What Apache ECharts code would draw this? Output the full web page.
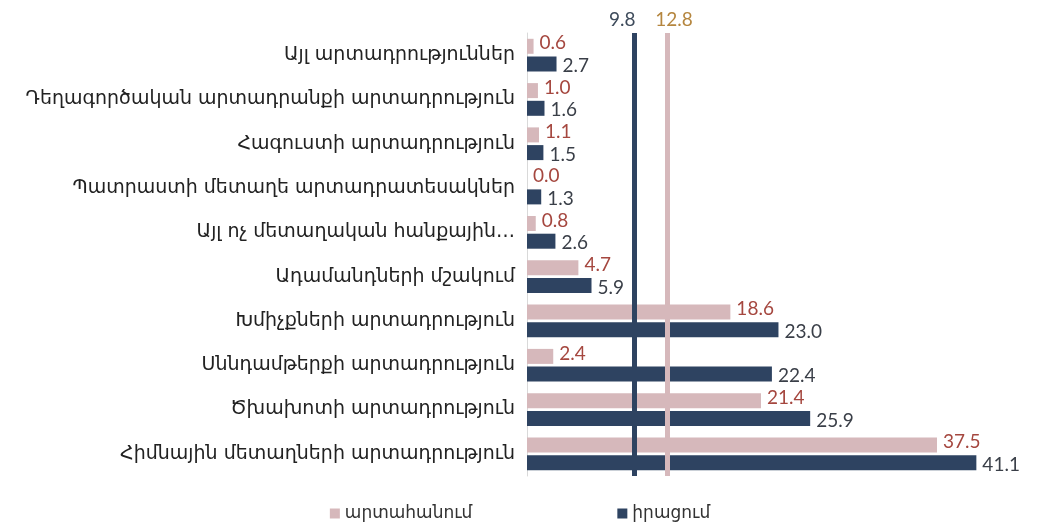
<!DOCTYPE html>
<html>
<head>
<meta charset="utf-8">
<script src="https://cdn.jsdelivr.net/npm/echarts@6/dist/echarts.min.js"></script>
<style>
html,body{margin:0;padding:0;background:#fff;}
#chart{width:1040px;height:529px;}
</style>
</head>
<body>
<div id="chart"></div>
<script>
const categories = [
  'Այլ արտադրություններ',
  'Դեղագործական արտադրանքի արտադրություն',
  'Հագուստի արտադրություն',
  'Պատրաստի մետաղե արտադրատեսակներ',
  'Այլ ոչ մետաղական հանքային…',
  'Ադամանդների մշակում',
  'Խմիչքների արտադրություն',
  'Սննդամթերքի արտադրություն',
  'Ծխախոտի արտադրություն',
  'Հիմնային մետաղների արտադրություն'
];
const exportValues = [0.6, 1.0, 1.1, 0.0, 0.8, 4.7, 18.6, 2.4, 21.4, 37.5];
const salesValues  = [2.7, 1.6, 1.5, 1.3, 2.6, 5.9, 23.0, 22.4, 25.9, 41.1];
const seriesNames = ['արտահանում', 'իրացում'];
const salesAverage = 9.8;
const exportAverage = 12.8;

const pink = '#d6b8bb';
const navy = '#2e4361';

const chart = echarts.init(document.getElementById('chart'));
chart.setOption({
  backgroundColor: '#fff',
  animation: false,
  legend: {
    bottom: 2,
    left: 'center',
    itemWidth: 10,
    itemHeight: 10,
    itemGap: 145,
    icon: 'rect',
    textStyle: {fontFamily: 'DejaVu Sans', fontSize: 17, color: '#333'},
    data: seriesNames
  },
  grid: {left: 527, right: 21, top: 33, bottom: 53},
  xAxis: {
    type: 'value', min: 0, max: 45,
    axisLabel: {show: false}, axisLine: {show: false},
    axisTick: {show: false}, splitLine: {show: false}
  },
  yAxis: {
    type: 'category', inverse: true, data: categories,
    axisLine: {show: true, lineStyle: {color: '#d9d9d9', width: 1}},
    axisTick: {show: false},
    axisLabel: {fontFamily: 'DejaVu Sans', fontSize: 19, color: '#222', margin: 12}
  },
  series: [
    {
      name: seriesNames[0], type: 'bar', data: exportValues,
      barWidth: 15, barGap: '18%',
      itemStyle: {color: pink},
      label: {
        show: true, position: 'right', distance: 6, offset: [0, -3],
        fontFamily: 'Lato', fontSize: 19, color: '#a5473f',
        formatter: p => p.value.toFixed(1)
      },
      markLine: {
        silent: true, symbol: 'none',
        lineStyle: {color: pink, width: 5, type: 'solid'},
        label: {show: true, position: 'start', fontFamily: 'Lato', fontSize: 19, color: '#b5863f', distance: 4,
          padding: [0, 0, 0, 14],
          formatter: p => p.value.toFixed(1)},
        data: [{xAxis: exportAverage}]
      }
    },
    {
      name: seriesNames[1], type: 'bar', data: salesValues,
      barWidth: 15,
      itemStyle: {color: navy},
      label: {
        show: true, position: 'right', distance: 6, offset: [0, 2],
        fontFamily: 'Lato', fontSize: 19, color: '#3a3f48',
        formatter: p => p.value.toFixed(1)
      },
      markLine: {
        silent: true, symbol: 'none',
        lineStyle: {color: navy, width: 5, type: 'solid'},
        label: {show: true, position: 'start', fontFamily: 'Lato', fontSize: 19, color: '#3e4b5b', distance: 4,
          padding: [0, 24, 0, 0],
          formatter: p => p.value.toFixed(1)},
        data: [{xAxis: salesAverage}]
      }
    }
  ]
});
</script>
</body>
</html>
